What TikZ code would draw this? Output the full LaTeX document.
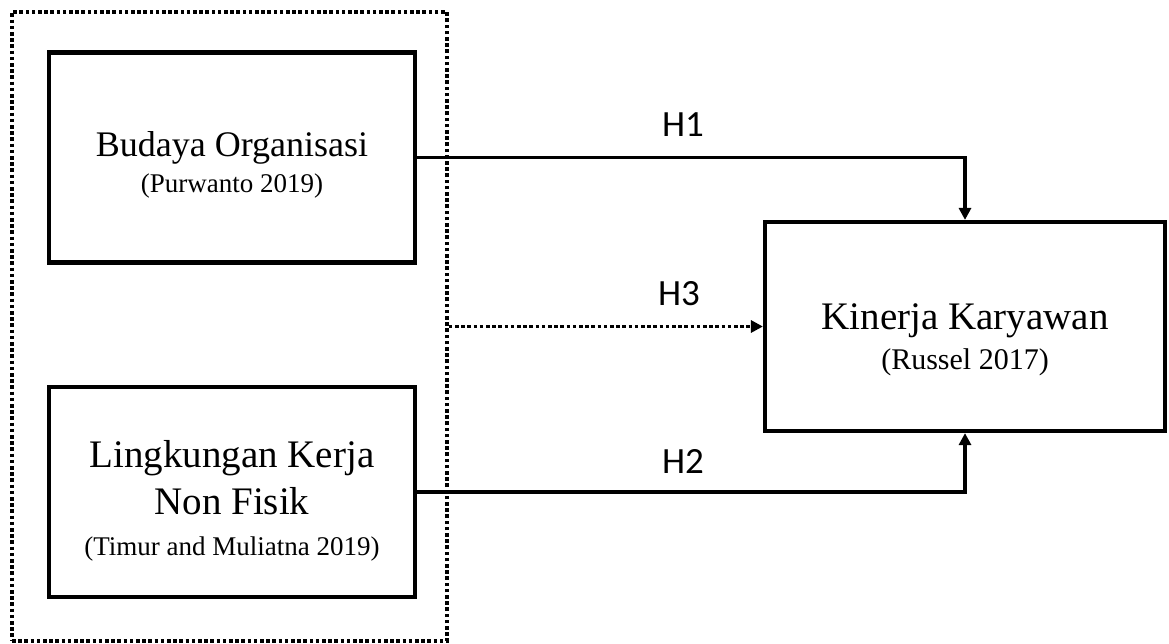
\documentclass[tikz,border=0pt]{standalone}
\usepackage{fontspec}
\setmainfont{Liberation Serif}
\newfontfamily\hfont{Carlito}
\usetikzlibrary{arrows.meta,positioning}
\tikzset{varbox/.style={draw, line width=4.2pt, minimum width=366pt, minimum height=210pt, align=center, inner sep=0pt}}
\tikzset{arr/.style={draw, line width=3.6pt, -{Triangle[length=12pt,width=12pt]}}}
\tikzset{dotline/.style={line width=3.6pt, dash pattern=on 3.6pt off 2.6pt}}
\tikzset{hlabel/.style={font=\hfont\fontsize{37}{44}\selectfont}}
\newcommand{\srcref}[1]{{\fontsize{27}{32}\selectfont #1}}

\begin{document}
\begin{tikzpicture}[x=1pt,y=-1pt]
		\useasboundingbox (0,0) rectangle (1169,643);
		\node[dotline, draw, minimum width=435pt, minimum height=629pt] (grp) at (229.5,326.5){};
		
		\node[varbox, font=\fontsize{36}{44}\selectfont] (B) at (232,157.5){\rule{0pt}{40pt}Budaya Organisasi\\[-8pt] \srcref{(Purwanto 2019)}};
		\node[varbox, font=\fontsize{39}{47}\selectfont] (L) at (232,492){\rule{0pt}{45pt}Lingkungan Kerja\\Non Fisik\\[-6pt] \srcref{(Timur and Muliatna 2019)}};
		\node[varbox, minimum width=400pt, minimum height=209pt, font=\fontsize{39}{47}\selectfont] (K) at (965,326.5){\rule{0pt}{52pt}Kinerja Karyawan\\[-7pt] {\fontsize{30}{36}\selectfont (Russel 2017)}};
		
		\draw[arr] (B.east) -| (K.north);
		\draw[arr] (L.east) -| (K.south);
		\draw[arr, dotline] (grp.east) -- (K.west);
		
		\node[hlabel] (H1) at (683,125){H1};
		\node[hlabel] (H3) at (679,294){H3};
		\node[hlabel] (H2) at (683,461){H2};
	\end{tikzpicture}
\end{document}
